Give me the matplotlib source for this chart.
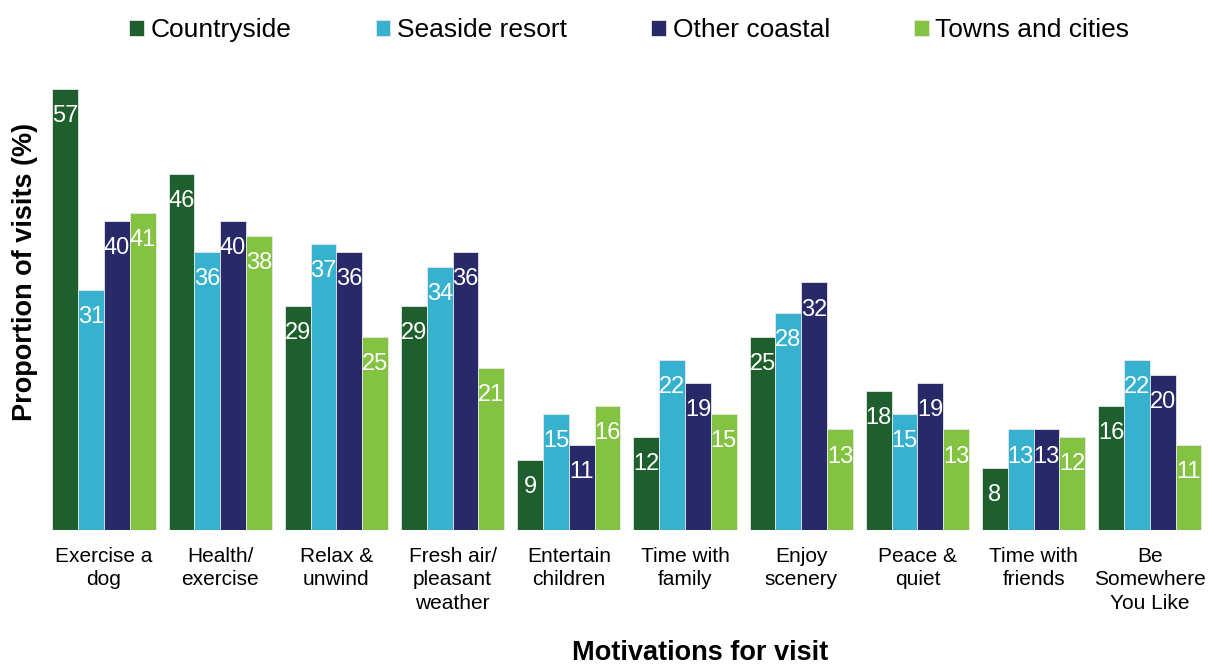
import matplotlib.pyplot as plt
import numpy as np

plt.rcParams['font.family'] = ['Liberation Sans', 'DejaVu Sans']

# данные
categories = ['Exercise a\ndog', 'Health/\nexercise', 'Relax &\nunwind', 'Fresh air/\npleasant\nweather',
              'Entertain\nchildren', 'Time with\nfamily', 'Enjoy\nscenery', 'Peace &\nquiet',
              'Time with\nfriends', 'Be\nSomewhere\nYou Like']
countryside = [57, 46, 29, 29, 9, 12, 25, 18, 8, 16]
seaside = [31, 36, 37, 34, 15, 22, 28, 15, 13, 22]
other_coastal = [40, 40, 36, 36, 11, 19, 32, 19, 13, 20]
towns = [41, 38, 25, 21, 16, 15, 13, 13, 12, 11]

series = [('Countryside', countryside, '#1f5f2e'),
          ('Seaside resort', seaside, '#36b2ce'),
          ('Other coastal', other_coastal, '#282968'),
          ('Towns and cities', towns, '#83c341')]

fig = plt.figure(figsize=(12.08, 6.65), dpi=100)
ax = fig.add_axes([0.038, 0.203, 0.962, 0.698])

x = np.arange(len(categories))
w = 0.222
for i, (name, vals, col) in enumerate(series):
    pos = x + (i - 1.5) * w
    bars = ax.bar(pos, vals, width=w, color=col, edgecolor='#e8e8e8', linewidth=0.6, label=name)
    for b, v in zip(bars, vals):
        ax.annotate(str(v), (b.get_x() + b.get_width() / 2, v), xytext=(0, -19.5),
                    textcoords='offset points', ha='center', va='center',
                    color='white', fontsize=17)

ax.set_xlim(-0.5, 9.5)
ax.set_ylim(0, 60)
ax.set_yticks([])
ax.set_xticks(x)
ax.set_xticklabels(categories, fontsize=15, linespacing=1.3)
ax.tick_params(axis='x', length=0, pad=12)
for s in ax.spines.values():
    s.set_visible(False)

fig.text(25 / 1208, 1 - 272 / 665, 'Proportion of visits (%)', fontsize=19.5, fontweight='bold',
         rotation=90, ha='center', va='center')
fig.text(700 / 1208, 1 - 653 / 665, 'Motivations for visit', fontsize=19.5, fontweight='bold',
         ha='center', va='center')

fig.legend(loc='center', bbox_to_anchor=(0.521, 0.955), ncol=4, frameon=False, fontsize=19,
           handlelength=0.55, handleheight=0.55, handletextpad=0.25, columnspacing=3.2)

plt.savefig('out.png', dpi=100)
